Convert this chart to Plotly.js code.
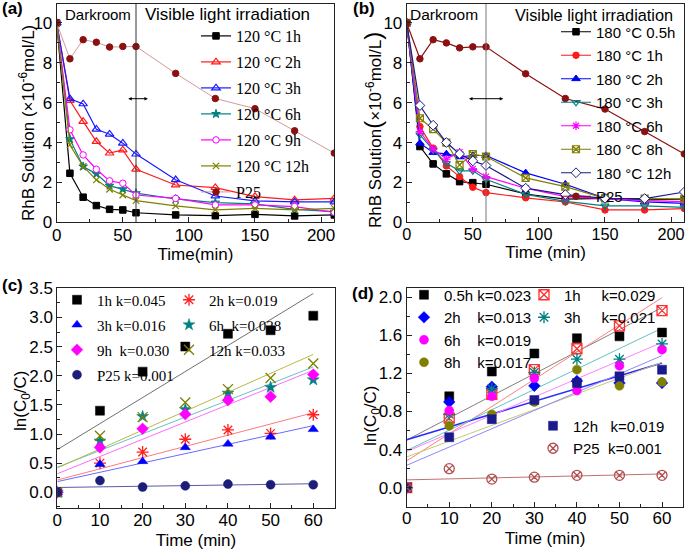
<!DOCTYPE html>
<html><head><meta charset="utf-8">
<script src="https://cdn.plot.ly/plotly-3.0.1.min.js"></script>
<style>html,body{margin:0;padding:0;background:#fff}#chart{width:685px;height:550px}</style>
</head><body><div id="chart"></div>
<script>
// ---------- data: panel (a) 120 °C ----------
const timeAB = [0,10,20,30,40,50,60,90,120,150,180,210];
const a120_1h  = [10,2.46,1.26,0.84,0.65,0.62,0.48,0.37,0.33,0.40,0.32,0.37];
const a120_2h  = [10,6.11,5.06,4.05,3.47,3.63,2.66,1.87,1.74,1.29,1.12,1.20];
const a120_3h  = [10,6.20,5.94,4.67,4.42,3.97,3.42,2.13,1.32,1.07,1.02,1.02];
const a120_6h  = [10,4.17,2.80,2.43,1.84,1.66,1.46,1.17,0.99,0.92,0.65,0.54];
const a120_9h  = [10,4.64,3.38,2.66,2.08,1.96,1.37,1.20,0.87,0.87,0.79,0.50];
const a120_12h = [10,3.88,2.80,2.13,1.66,1.37,1.09,0.82,0.62,0.70,0.62,0.70];
const aP25     = [10,8.20,9.16,9.03,8.79,8.82,8.82,7.47,6.21,5.70,4.59,3.47];
const namesA = ['120 °C 1h','120 °C 2h','120 °C 3h','120 °C 6h','120 °C 9h','120 °C 12h','P25'];

// ---------- data: panel (b) 180 °C ----------
const b180_05h = [10,3.80,2.93,2.43,2.04,1.99,1.91,1.42,1.16,1.20,1.12,1.16];
const b180_1h  = [10,4.80,3.72,2.83,2.29,1.76,1.49,1.23,1.02,0.62,0.62,0.69];
const b180_2h  = [10,3.97,3.50,3.43,3.28,3.35,3.35,2.48,1.91,1.20,1.02,0.95];
const b180_3h  = [10,4.39,3.63,2.96,2.58,2.58,2.16,1.40,1.05,0.82,0.82,0.75];
const b180_6h  = [10,4.55,3.67,3.17,3.52,2.68,2.29,1.71,1.29,1.20,1.09,1.04];
const b180_8h  = [10,5.22,4.67,4.00,2.88,3.42,3.30,2.23,1.79,1.20,1.19,1.17];
const b180_12h = [10,5.86,4.87,4.00,3.43,3.08,2.85,1.71,1.39,1.20,1.19,1.52];
const bP25     = [10,8.20,9.16,9.00,8.75,8.80,8.80,7.45,6.21,5.68,4.55,3.43];
const namesB = ['180 °C 0.5h','180 °C 1h','180 °C 2h','180 °C 3h','180 °C 6h','180 °C 8h','180 °C 12h','P25'];

// ---------- data: panel (c) ln(C0/C), 120 °C ----------
const timeK = [0,10,20,30,40,50,60];
const c1h  = [0,1.40,2.07,2.50,2.72,2.78,3.03];
const c2h  = [0,0.50,0.69,0.91,1.07,1.01,1.33];
const c3h  = [0,0.48,0.53,0.77,0.83,0.95,1.08];
const c6h  = [0,0.88,1.30,1.42,1.70,1.80,1.93];
const c9h  = [0,0.77,1.09,1.34,1.58,1.64,2.02];
const c12h = [0,0.97,1.29,1.54,1.77,1.96,2.21];
const cP25 = [0,0.20,0.09,0.11,0.14,0.13,0.13];
const labelsC = ['1h k=0.045','2h k=0.019','3h k=0.016','6h\u00a0 k=0.028','9h\u00a0 k=0.030','12h k=0.033','P25 k=0.001'];

// ---------- data: panel (d) ln(C0/C), 180 °C ----------
const d05h = [0,0.96,1.22,1.41,1.57,1.59,1.63];
const d1h  = [0,0.73,0.98,1.24,1.46,1.70,1.86];
const d2h  = [0,0.90,1.06,1.07,1.12,1.10,1.10];
const d3h  = [0,0.77,1.04,1.21,1.35,1.35,1.51];
const d6h  = [0,0.81,0.96,1.15,1.02,1.28,1.45];
const d8h  = [0,0.65,0.77,0.90,1.24,1.07,1.11];
const d12h = [0,0.53,0.72,0.92,1.10,1.17,1.24];
const dP25 = [0,0.20,0.09,0.11,0.13,0.13,0.13];
const NB = '\u00a0';
const labelsD = ['0.5h k=0.023','1h'+NB.repeat(4)+' k=0.029','2h'+NB.repeat(3)+' k=0.013','3h'+NB.repeat(4)+' k=0.021',
                 '6h'+NB.repeat(3)+' k=0.019','8h'+NB.repeat(3)+' k=0.017','12h'+NB.repeat(2)+' k=0.019','P25'+NB+' k=0.001'];

// ---------- helpers ----------
function fitLine(x, y){
  const n = x.length;
  const mx = x.reduce((s,v)=>s+v,0)/n, my = y.reduce((s,v)=>s+v,0)/n;
  let sxy=0, sxx=0;
  for(let i=0;i<n;i++){ sxy += (x[i]-mx)*(y[i]-my); sxx += (x[i]-mx)*(x[i]-mx); }
  const k = sxy/sxx, b = my - k*mx;
  const xs = [x[0], x[n-1]];
  return {x: xs, y: xs.map(v => b + k*v)};
}

const traces = [];
function lineTrace(x, y, name, color, symbol, opts){
  opts = opts || {};
  return {
    type:'scatter', mode:'lines+markers', x:x, y:y, name:name,
    xaxis:opts.xa, yaxis:opts.ya, legend:opts.legend, legendgroup:opts.legend+name,
    line:{color:opts.lineColor||color, width:opts.lw||1.2},
    marker:{symbol:symbol, size:opts.size||6.5, color:opts.fill||color,
            line:{color:color, width:opts.mlw||1}},
    cliponaxis:true
  };
}

// panel (a)
const colA = ['#000000','#ff1a1a','#1a1aff','#008080','#ff00ff','#808000','#8b1010'];
const symA = ['square','triangle-up-open','triangle-up-open','star','circle','x-thin-open','circle'];
const serA = [a120_1h,a120_2h,a120_3h,a120_6h,a120_9h,a120_12h,aP25];
serA.forEach((s,i)=>{
  const o = {xa:'x', ya:'y', legend:'legend'};
  if(i===4){ o.fill='#ffffff'; }
  if(i===1||i===2){ o.size=7.5; o.mlw=1.2; }
  if(i===5){ o.mlw=1.2; }
  if(i===6){ o.lineColor='#c99090'; o.lw=0.9; }
  traces.push(lineTrace(timeAB, s, namesA[i], colA[i], symA[i], o));
});

// panel (b)
const colB = ['#000000','#ff1a1a','#0000ff','#008080','#ff00ff','#808000','#1a1a8c','#8b1010'];
const symB = ['square','circle','triangle-up','triangle-down-open','asterisk-open','square-x-open','diamond','circle'];
const serB = [b180_05h,b180_1h,b180_2h,b180_3h,b180_6h,b180_8h,b180_12h,bP25];
serB.forEach((s,i)=>{
  const o = {xa:'x2', ya:'y2', legend:'legend2'};
  if(i===6){ o.fill='#ffffff'; o.size=7.5; }
  if(i===3||i===4||i===5){ o.mlw=1.2; o.size=7; }
  if(i===2){ o.size=7.5; }
  traces.push(lineTrace(timeAB, s, namesB[i], colB[i], symB[i], o));
});

// panel (c): scatter + fitted lines
const serC = [c1h,c2h,c3h,c6h,c9h,c12h,cP25];
const colC = ['#000000','#ff2020','#0000ff','#008080','#ff00ff','#808000','#1c1c7a'];
const fitColC = ['#707070','#ff7a7a','#6a6aff','#66c2c2','#ff6aff','#b8b84a','#5a5aa8'];
const symC = ['square','asterisk-open','triangle-up','star','diamond','x-thin-open','circle'];
const legC = ['legend3','legend4','legend3','legend4','legend3','legend4','legend3'];
serC.forEach((s,i)=>{
  const f = fitLine(timeK, s);
  traces.push({type:'scatter', mode:'lines', x:f.x, y:f.y, xaxis:'x3', yaxis:'y3', showlegend:false,
               hoverinfo:'skip', line:{color:fitColC[i], width:1}});
});
serC.forEach((s,i)=>{
  const thin = (symC[i].indexOf('open')>=0);
  traces.push({type:'scatter', mode:'markers', x:timeK, y:s, name:labelsC[i], xaxis:'x3', yaxis:'y3',
               legend:legC[i], legendgroup:'c'+i,
               marker:{symbol:symC[i], size:thin?10:9, color:colC[i], line:{color:colC[i], width:thin?1.3:0.5}}});
});

// panel (d): scatter + fitted lines
const serD = [d05h,d1h,d2h,d3h,d6h,d8h,d12h,dP25];
const colD = ['#000000','#ff3030','#0000ff','#008080','#ff00ff','#808000','#1a1a8c','#b05050'];
const fitColD = ['#808080','#ff8080','#2a2aff','#66c2c2','#ff80ff','#c8c870','#8a8aff','#c07070'];
const fitWD = [1,1,1.5,1,1,1,1,1];
const symD = ['square','square-x-open','diamond','asterisk-open','circle','circle','square','circle-x-open'];
const legD = ['legend5','legend6','legend5','legend6','legend5','legend5','legend7','legend7'];
serD.forEach((s,i)=>{
  const f = fitLine(timeK, s);
  traces.push({type:'scatter', mode:'lines', x:f.x, y:f.y, xaxis:'x4', yaxis:'y4', showlegend:false,
               hoverinfo:'skip', line:{color:fitColD[i], width:fitWD[i]}});
});
serD.forEach((s,i)=>{
  const thin = (symD[i].indexOf('open')>=0);
  traces.push({type:'scatter', mode:'markers', x:timeK, y:s, name:labelsD[i], xaxis:'x4', yaxis:'y4',
               legend:legD[i], legendgroup:'d'+i,
               marker:{symbol:symD[i], size:thin?10:9, color:colD[i], line:{color:colD[i], width:thin?1.3:0.5}}});
});

// ---------- layout ----------
const W = 685, H = 550;
const px = v => v/W, py = v => 1 - v/H;
const SANS = 'Liberation Sans, Arial, sans-serif';
const SERIF = 'Liberation Serif, Times New Roman, serif';
const axBase = {showgrid:false, zeroline:false, showline:true, linecolor:'#222', linewidth:1, mirror:true,
                ticks:'inside', ticklen:5, tickwidth:1, tickcolor:'#222', ticklabeloverflow:'allow',
                tickfont:{family:SANS, size:17, color:'#000'}};
function ax(extra){ return Object.assign({}, JSON.parse(JSON.stringify(axBase)), extra); }
const titleFont = {family:SANS, size:17, color:'#000'};

const legBase = {xanchor:'left', yanchor:'top', bgcolor:'rgba(0,0,0,0)', borderwidth:0};
function leg(extra){ return Object.assign({}, legBase, extra); }
function ytitle(text, xc, yc){
  return {xref:'paper', yref:'paper', x:px(xc), y:py(yc), xanchor:'center', yanchor:'middle',
          showarrow:false, textangle:-90, text:text, font:titleFont};
}

const layout = {
  width:W, height:H, margin:{l:0,r:0,t:0,b:0}, paper_bgcolor:'#fff', plot_bgcolor:'#fff',
  font:{family:SANS, color:'#000'},
  xaxis: ax({domain:[px(56.7),px(334.3)], anchor:'y', range:[0,210], dtick:50, tick0:0, ticklabelstandoff:-3,
             minor:{ticks:'inside', ticklen:3, dtick:25, tickcolor:'#222'},
             title:{text:'Time(min)', font:titleFont, standoff:4}}),
  yaxis: ax({domain:[py(222.3),py(4)], anchor:'x', range:[0,10.95], dtick:2, tick0:0,
             minor:{ticks:'inside', ticklen:3, dtick:1, tickcolor:'#222'}}),
  xaxis2: ax({domain:[px(406.7),px(684.3)], anchor:'y2', range:[0,210], dtick:50, tick0:0, ticklabelstandoff:-3,
             tickfont:{family:SANS, size:16.3, color:'#000'},
             minor:{ticks:'inside', ticklen:3, dtick:25, tickcolor:'#222'},
             title:{text:'Time (min)', font:titleFont, standoff:4}}),
  yaxis2: ax({domain:[py(222.3),py(4)], anchor:'x2', range:[0,10.95], dtick:2, tick0:0,
             minor:{ticks:'inside', ticklen:3, dtick:1, tickcolor:'#222'}}),
  xaxis3: ax({domain:[px(57.3),px(334.6)], anchor:'y3', range:[0,65], dtick:10, tick0:0, ticklabelstandoff:-4,
             minor:{ticks:'inside', ticklen:3, dtick:5, tickcolor:'#222'},
             title:{text:'Time (min)', font:titleFont, standoff:6}}),
  yaxis3: ax({domain:[py(508.3),py(288.3)], anchor:'x3', range:[-0.275,3.5], dtick:0.5, tick0:0, tickformat:'.1f',
             minor:{ticks:'inside', ticklen:3, dtick:0.25, tickcolor:'#222'}}),
  xaxis4: ax({domain:[px(406.7),px(683.3)], anchor:'y4', range:[0,65], dtick:10, tick0:0, ticklabelstandoff:-4,
             minor:{ticks:'inside', ticklen:3, dtick:5, tickcolor:'#222'},
             title:{text:'Time (min)', font:titleFont, standoff:5}}),
  yaxis4: ax({domain:[py(506.7),py(288.3)], anchor:'x4', range:[-0.2,2.095], dtick:0.4, tick0:0, tickformat:'.1f',
             minor:{ticks:'inside', ticklen:3, dtick:0.2, tickcolor:'#222'}}),
  legend:  leg({x:px(196), y:py(19), font:{family:SERIF, size:16, color:'#000'}, tracegroupgap:2.2}),
  legend2: leg({x:px(556), y:py(15.5), font:{family:SANS, size:15, color:'#000'}, tracegroupgap:1}),
  legend3: leg({x:px(57), y:py(283.5), font:{family:SERIF, size:15, color:'#000'}, tracegroupgap:2.5}),
  legend4: leg({x:px(169), y:py(283.5), font:{family:SERIF, size:15, color:'#000'}, tracegroupgap:2.5}),
  legend5: leg({x:px(404), y:py(278.5), font:{family:SANS, size:15, color:'#000'}, tracegroupgap:0}),
  legend6: leg({x:px(524), y:py(278.5), font:{family:SANS, size:15, color:'#000'}, tracegroupgap:0}),
  legend7: leg({x:px(533), y:py(409.5), font:{family:SANS, size:15, color:'#000'}, tracegroupgap:0}),
  shapes: [
    {type:'line', xref:'x', yref:'y domain', x0:60, x1:60, y0:0, y1:1, line:{color:'#333', width:1}},
    {type:'line', xref:'x2', yref:'y2 domain', x0:60, x1:60, y0:0, y1:1, line:{color:'#777', width:1}}
  ],
  annotations: [
    ytitle('RhB Solution (×10<sup>-6</sup>mol/L)', 27, 123),
    ytitle('RhB Solution<span style="font-size:24px">(</span>×10<sup>-6</sup>mol/L<span style="font-size:24px">)</span>', 373, 130),
    ytitle('ln(C<sub>0</sub>/C)', 22, 401),
    ytitle('ln(C<sub>0</sub>/C)', 372, 416),
    {xref:'paper', yref:'paper', x:0, y:py(9), xanchor:'left', yanchor:'middle', showarrow:false,
     text:'<b>(a)</b>', font:{family:SANS, size:17, color:'#000'}},
    {xref:'paper', yref:'paper', x:px(351), y:py(9), xanchor:'left', yanchor:'middle', showarrow:false,
     text:'<b>(b)</b>', font:{family:SANS, size:17, color:'#000'}},
    {xref:'paper', yref:'paper', x:0, y:py(285), xanchor:'left', yanchor:'middle', showarrow:false,
     text:'<b>(c)</b>', font:{family:SANS, size:17, color:'#000'}},
    {xref:'paper', yref:'paper', x:px(350), y:py(293), xanchor:'left', yanchor:'middle', showarrow:false,
     text:'<b>(d)</b>', font:{family:SANS, size:17, color:'#000'}},
    {xref:'paper', yref:'paper', x:px(97.5), y:py(15), xanchor:'center', yanchor:'middle', showarrow:false,
     text:'Darkroom', font:{family:SANS, size:15, color:'#000'}},
    {xref:'paper', yref:'paper', x:px(227.5), y:py(15), xanchor:'center', yanchor:'middle', showarrow:false,
     text:'Visible light irradiation', font:{family:SANS, size:17, color:'#000'}},
    {xref:'paper', yref:'paper', x:px(444), y:py(15), xanchor:'center', yanchor:'middle', showarrow:false,
     text:'Darkroom', font:{family:SANS, size:15.5, color:'#000'}},
    {xref:'paper', yref:'paper', x:px(594), y:py(15), xanchor:'center', yanchor:'middle', showarrow:false,
     text:'Visible light irradiation', font:{family:SANS, size:16.3, color:'#000'}},
    {xref:'x', yref:'y', axref:'x', ayref:'y', x:69, y:6.2, ax:53, ay:6.2, text:'', showarrow:true,
     arrowhead:2, startarrowhead:2, arrowside:'end+start', arrowsize:0.7, startarrowsize:0.7, arrowwidth:1, arrowcolor:'#000'},
    {xref:'x2', yref:'y2', axref:'x2', ayref:'y2', x:73, y:6.2, ax:46, ay:6.2, text:'', showarrow:true,
     arrowhead:2, startarrowhead:2, arrowside:'end+start', arrowsize:0.7, startarrowsize:0.7, arrowwidth:1, arrowcolor:'#000'}
  ]
};

Plotly.newPlot('chart', traces, layout, {displayModeBar:false, staticPlot:true});
</script>
</body></html>
